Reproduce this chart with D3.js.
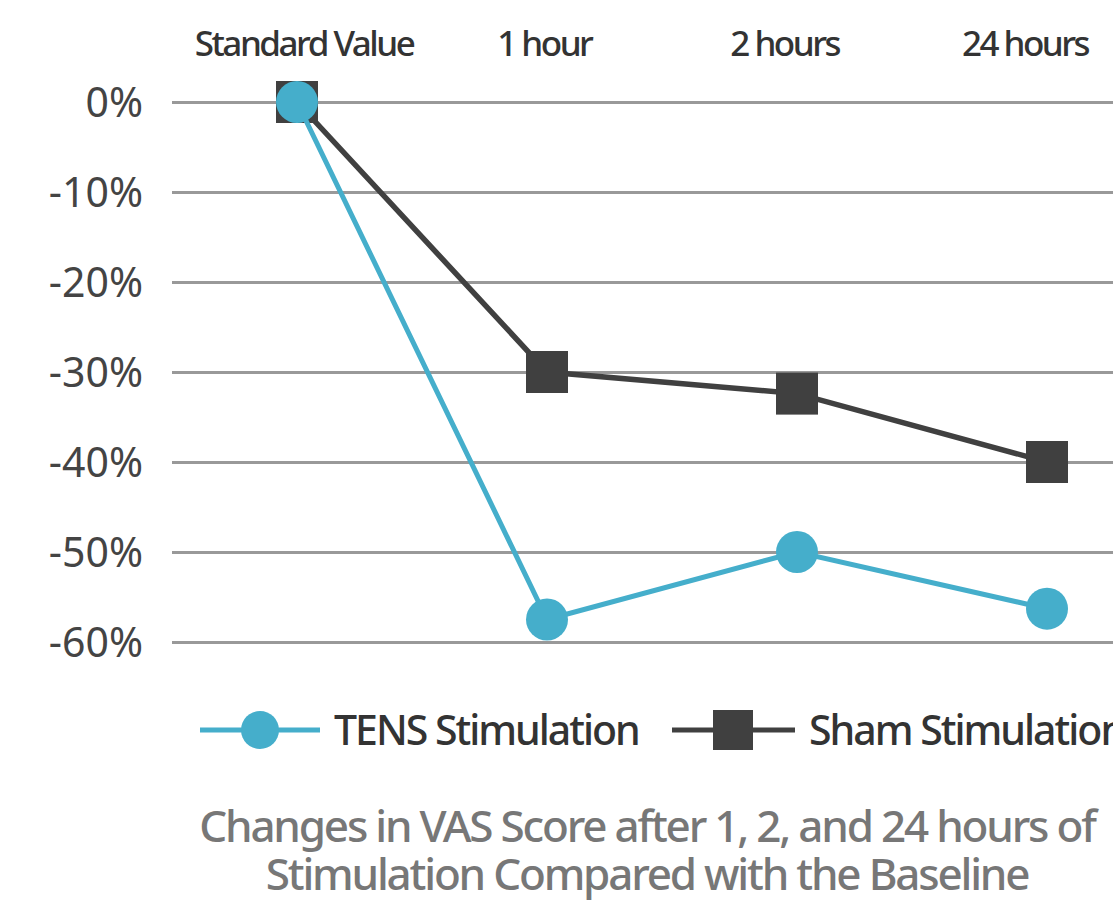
<!DOCTYPE html>
<html>
  <head>
    <meta charset="utf-8" />
    <title>VAS Score Changes</title>
    <script src="https://d3js.org/d3.v7.min.js"></script>
  </head>
  <style>
    body {
      margin: 0;
      background-color: white;
      font-family: "Noto Sans", sans-serif;
    }
  </style>
  <body>
    <div id="chart"></div>
    <script>

    // chart values
    var categories = ["Standard Value", "1 hour", "2 hours", "24 hours"];
    var tensValues = [0, -57.5, -50, -56.3];
    var shamValues = [0, -30, -32.4, -40];
    var yTicks = [0, -10, -20, -30, -40, -50, -60];
    var seriesNames = ["TENS Stimulation", "Sham Stimulation"];
    var titleLines = ["Changes in VAS Score after 1, 2, and 24 hours of",
                      "Stimulation Compared with the Baseline"];

    var width = 1113;
    var height = 900;
    var blue = "#45aecb";
    var dark = "#404040";

    var svg = d3.select("#chart").append("svg")
        .attr("width", width)
        .attr("height", height);

    // scales
    var x = d3.scaleBand()
        .domain(categories)
        .range([172, 1172]);

    // the header labels sit a little off the band centres
    var xLabel = d3.scalePoint()
        .domain(categories)
        .range([304, 1025]);

    var y = d3.scaleLinear()
        .domain([0, -60])
        .range([102, 642]);

    // gridlines + y labels
    var yAxis = d3.axisLeft(y)
        .tickValues(yTicks)
        .tickSize(-(width - 172))
        .tickPadding(29)
        .tickFormat(function(d) { return d + "%"; });

    var gy = svg.append("g")
        .attr("transform", "translate(172,0)")
        .call(yAxis);
    gy.select(".domain").remove();
    gy.selectAll(".tick line")
        .attr("stroke", "#999")
        .attr("stroke-width", 3);
    gy.selectAll(".tick text")
        .attr("fill", "#444")
        .attr("font-size", 41)
        .attr("font-family", "Noto Sans")
        .attr("dy", "0.35em");

    // category labels along the top
    svg.append("g").selectAll("text")
        .data(categories)
        .enter().append("text")
          .attr("x", function(d) { return xLabel(d); })
          .attr("y", 56)
          .attr("text-anchor", "middle")
          .attr("fill", "#333")
          .attr("font-size", 35)
          .attr("font-weight", 500)
          .attr("letter-spacing", -2.5)
          .text(function(d) { return d; });

    function px(d, i) { return x(categories[i]) + x.bandwidth() / 2; }

    var line = d3.line()
        .x(px)
        .y(function(d) { return y(d); });

    // sham series
    svg.append("path")
        .datum(shamValues)
        .attr("fill", "none")
        .attr("stroke", dark)
        .attr("stroke-width", 5.5)
        .attr("d", line);

    svg.append("g").selectAll("rect")
        .data(shamValues)
        .enter().append("rect")
          .attr("x", function(d, i) { return px(d, i) - 21; })
          .attr("y", function(d) { return y(d) - 21; })
          .attr("width", 42)
          .attr("height", 42)
          .attr("fill", dark);

    // tens series
    svg.append("path")
        .datum(tensValues)
        .attr("fill", "none")
        .attr("stroke", blue)
        .attr("stroke-width", 5)
        .attr("d", line);

    svg.append("g").selectAll("circle")
        .data(tensValues)
        .enter().append("circle")
          .attr("cx", px)
          .attr("cy", function(d) { return y(d); })
          .attr("r", 21)
          .attr("fill", blue);

    // legend
    var legend = svg.append("g").attr("transform", "translate(0,730)");

    legend.append("line")
        .attr("x1", 200).attr("x2", 320)
        .attr("stroke", blue).attr("stroke-width", 5);
    legend.append("circle")
        .attr("cx", 260).attr("r", 19).attr("fill", blue);
    legend.append("text")
        .attr("x", 334).attr("dy", "0.36em")
        .attr("font-size", 41).attr("font-weight", 500)
        .attr("fill", "#333").attr("letter-spacing", -2)
        .text(seriesNames[0]);

    legend.append("line")
        .attr("x1", 672).attr("x2", 795)
        .attr("stroke", dark).attr("stroke-width", 5);
    legend.append("rect")
        .attr("x", 713).attr("y", -20).attr("width", 40).attr("height", 40)
        .attr("fill", dark);
    legend.append("text")
        .attr("x", 809).attr("dy", "0.36em")
        .attr("font-size", 41).attr("font-weight", 500)
        .attr("fill", "#333").attr("letter-spacing", -2)
        .text(seriesNames[1]);

    // caption
    svg.append("g").selectAll("text")
        .data(titleLines)
        .enter().append("text")
          .attr("x", 647)
          .attr("y", function(d, i) { return 842 + i * 48; })
          .attr("text-anchor", "middle")
          .attr("fill", "#777")
          .attr("font-size", 44)
          .attr("font-weight", 500)
          .attr("letter-spacing", -2.2)
          .text(function(d) { return d; });

    </script>
  </body>
</html>
